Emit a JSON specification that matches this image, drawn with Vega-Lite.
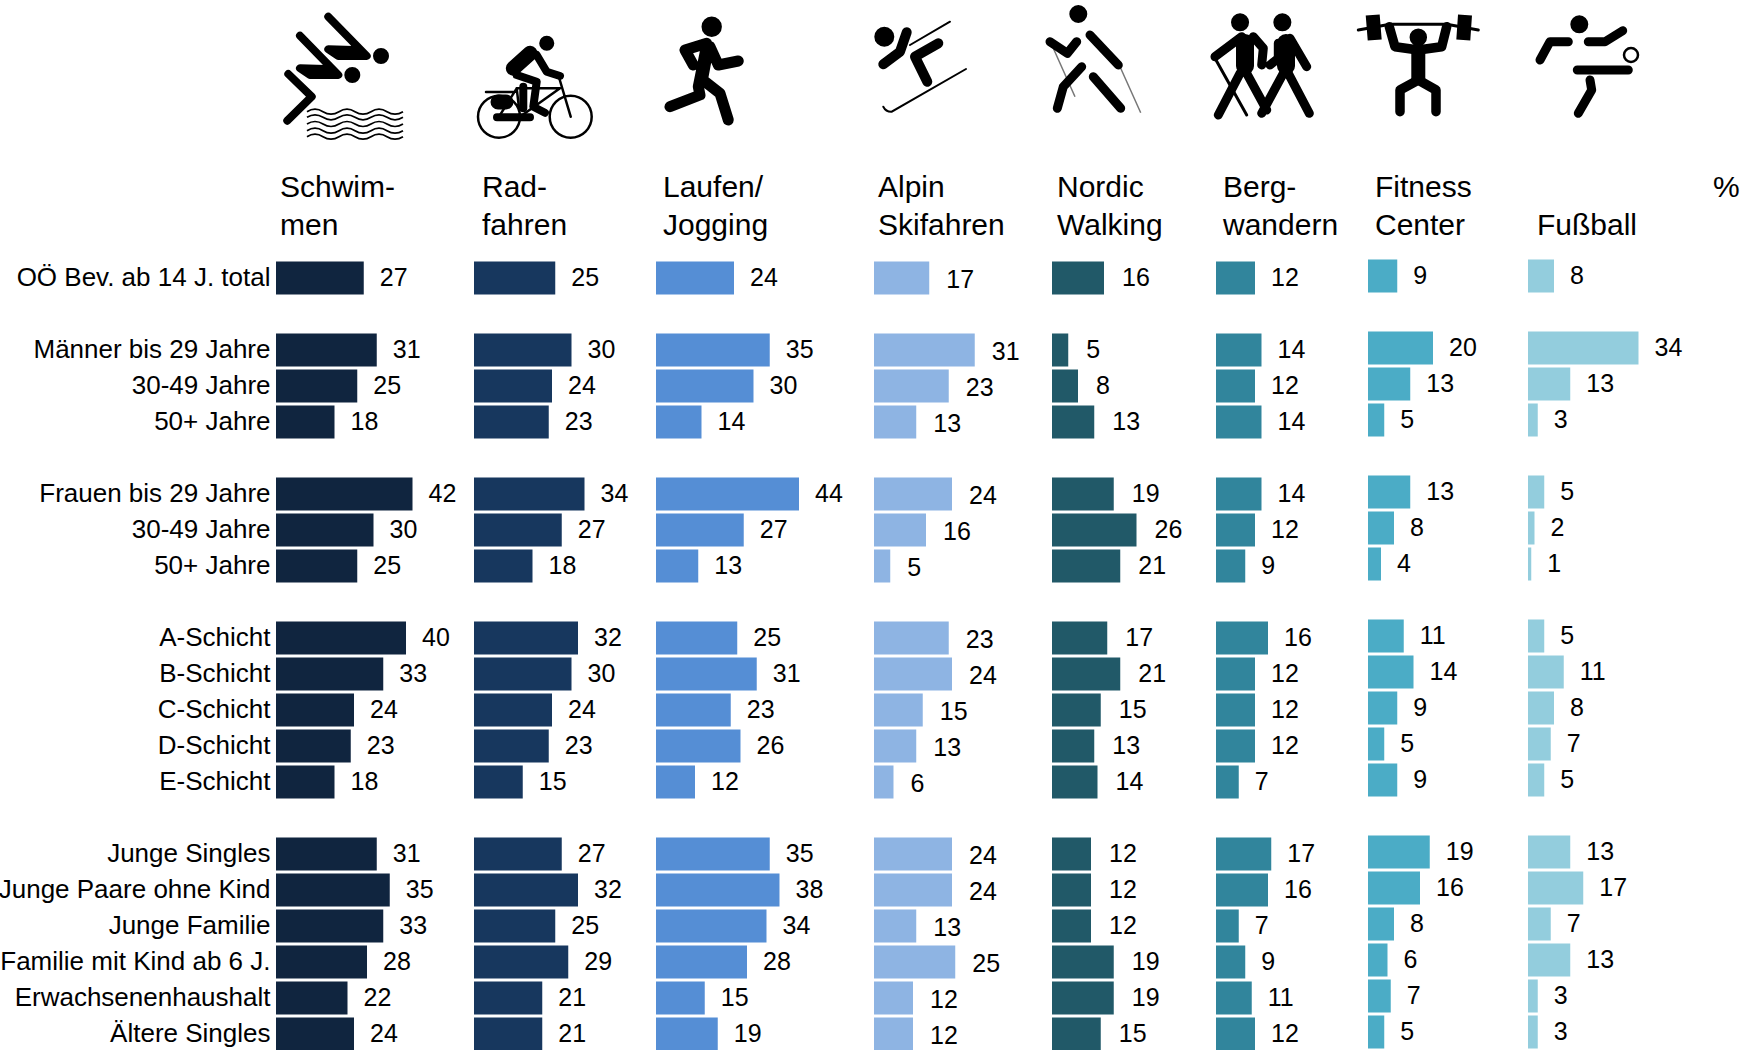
{
"$schema":"https://vega.github.io/schema/vega-lite/v6.json",
"padding":{"left":-2,"top":4,"right":0,"bottom":0},
"background":"white",
"bounds":"flush",
"config":{"view":{"stroke":null},"font":"Liberation Sans","concat":{"spacing":0},"text":{"font":"Liberation Sans","color":"#000000"}},
"spacing":0,
"datasets":{"bars":[
{"sport":"Schwimmen","row":"OÖ Bev. ab 14 J. total","value":27},{"sport":"Schwimmen","row":"Männer bis 29 Jahre","value":31},{"sport":"Schwimmen","row":"Männer: 30-49 Jahre","value":25},{"sport":"Schwimmen","row":"Männer: 50+ Jahre","value":18},{"sport":"Schwimmen","row":"Frauen bis 29 Jahre","value":42},{"sport":"Schwimmen","row":"Frauen: 30-49 Jahre","value":30},{"sport":"Schwimmen","row":"Frauen: 50+ Jahre","value":25},{"sport":"Schwimmen","row":"A-Schicht","value":40},{"sport":"Schwimmen","row":"B-Schicht","value":33},{"sport":"Schwimmen","row":"C-Schicht","value":24},{"sport":"Schwimmen","row":"D-Schicht","value":23},{"sport":"Schwimmen","row":"E-Schicht","value":18},{"sport":"Schwimmen","row":"Junge Singles","value":31},{"sport":"Schwimmen","row":"Junge Paare ohne Kind","value":35},{"sport":"Schwimmen","row":"Junge Familie","value":33},{"sport":"Schwimmen","row":"Familie mit Kind ab 6 J.","value":28},{"sport":"Schwimmen","row":"Erwachsenenhaushalt","value":22},{"sport":"Schwimmen","row":"Ältere Singles","value":24},
{"sport":"Radfahren","row":"OÖ Bev. ab 14 J. total","value":25},{"sport":"Radfahren","row":"Männer bis 29 Jahre","value":30},{"sport":"Radfahren","row":"Männer: 30-49 Jahre","value":24},{"sport":"Radfahren","row":"Männer: 50+ Jahre","value":23},{"sport":"Radfahren","row":"Frauen bis 29 Jahre","value":34},{"sport":"Radfahren","row":"Frauen: 30-49 Jahre","value":27},{"sport":"Radfahren","row":"Frauen: 50+ Jahre","value":18},{"sport":"Radfahren","row":"A-Schicht","value":32},{"sport":"Radfahren","row":"B-Schicht","value":30},{"sport":"Radfahren","row":"C-Schicht","value":24},{"sport":"Radfahren","row":"D-Schicht","value":23},{"sport":"Radfahren","row":"E-Schicht","value":15},{"sport":"Radfahren","row":"Junge Singles","value":27},{"sport":"Radfahren","row":"Junge Paare ohne Kind","value":32},{"sport":"Radfahren","row":"Junge Familie","value":25},{"sport":"Radfahren","row":"Familie mit Kind ab 6 J.","value":29},{"sport":"Radfahren","row":"Erwachsenenhaushalt","value":21},{"sport":"Radfahren","row":"Ältere Singles","value":21},
{"sport":"Laufen","row":"OÖ Bev. ab 14 J. total","value":24},{"sport":"Laufen","row":"Männer bis 29 Jahre","value":35},{"sport":"Laufen","row":"Männer: 30-49 Jahre","value":30},{"sport":"Laufen","row":"Männer: 50+ Jahre","value":14},{"sport":"Laufen","row":"Frauen bis 29 Jahre","value":44},{"sport":"Laufen","row":"Frauen: 30-49 Jahre","value":27},{"sport":"Laufen","row":"Frauen: 50+ Jahre","value":13},{"sport":"Laufen","row":"A-Schicht","value":25},{"sport":"Laufen","row":"B-Schicht","value":31},{"sport":"Laufen","row":"C-Schicht","value":23},{"sport":"Laufen","row":"D-Schicht","value":26},{"sport":"Laufen","row":"E-Schicht","value":12},{"sport":"Laufen","row":"Junge Singles","value":35},{"sport":"Laufen","row":"Junge Paare ohne Kind","value":38},{"sport":"Laufen","row":"Junge Familie","value":34},{"sport":"Laufen","row":"Familie mit Kind ab 6 J.","value":28},{"sport":"Laufen","row":"Erwachsenenhaushalt","value":15},{"sport":"Laufen","row":"Ältere Singles","value":19},
{"sport":"Alpin","row":"OÖ Bev. ab 14 J. total","value":17},{"sport":"Alpin","row":"Männer bis 29 Jahre","value":31},{"sport":"Alpin","row":"Männer: 30-49 Jahre","value":23},{"sport":"Alpin","row":"Männer: 50+ Jahre","value":13},{"sport":"Alpin","row":"Frauen bis 29 Jahre","value":24},{"sport":"Alpin","row":"Frauen: 30-49 Jahre","value":16},{"sport":"Alpin","row":"Frauen: 50+ Jahre","value":5},{"sport":"Alpin","row":"A-Schicht","value":23},{"sport":"Alpin","row":"B-Schicht","value":24},{"sport":"Alpin","row":"C-Schicht","value":15},{"sport":"Alpin","row":"D-Schicht","value":13},{"sport":"Alpin","row":"E-Schicht","value":6},{"sport":"Alpin","row":"Junge Singles","value":24},{"sport":"Alpin","row":"Junge Paare ohne Kind","value":24},{"sport":"Alpin","row":"Junge Familie","value":13},{"sport":"Alpin","row":"Familie mit Kind ab 6 J.","value":25},{"sport":"Alpin","row":"Erwachsenenhaushalt","value":12},{"sport":"Alpin","row":"Ältere Singles","value":12},
{"sport":"Nordic","row":"OÖ Bev. ab 14 J. total","value":16},{"sport":"Nordic","row":"Männer bis 29 Jahre","value":5},{"sport":"Nordic","row":"Männer: 30-49 Jahre","value":8},{"sport":"Nordic","row":"Männer: 50+ Jahre","value":13},{"sport":"Nordic","row":"Frauen bis 29 Jahre","value":19},{"sport":"Nordic","row":"Frauen: 30-49 Jahre","value":26},{"sport":"Nordic","row":"Frauen: 50+ Jahre","value":21},{"sport":"Nordic","row":"A-Schicht","value":17},{"sport":"Nordic","row":"B-Schicht","value":21},{"sport":"Nordic","row":"C-Schicht","value":15},{"sport":"Nordic","row":"D-Schicht","value":13},{"sport":"Nordic","row":"E-Schicht","value":14},{"sport":"Nordic","row":"Junge Singles","value":12},{"sport":"Nordic","row":"Junge Paare ohne Kind","value":12},{"sport":"Nordic","row":"Junge Familie","value":12},{"sport":"Nordic","row":"Familie mit Kind ab 6 J.","value":19},{"sport":"Nordic","row":"Erwachsenenhaushalt","value":19},{"sport":"Nordic","row":"Ältere Singles","value":15},
{"sport":"Berg","row":"OÖ Bev. ab 14 J. total","value":12},{"sport":"Berg","row":"Männer bis 29 Jahre","value":14},{"sport":"Berg","row":"Männer: 30-49 Jahre","value":12},{"sport":"Berg","row":"Männer: 50+ Jahre","value":14},{"sport":"Berg","row":"Frauen bis 29 Jahre","value":14},{"sport":"Berg","row":"Frauen: 30-49 Jahre","value":12},{"sport":"Berg","row":"Frauen: 50+ Jahre","value":9},{"sport":"Berg","row":"A-Schicht","value":16},{"sport":"Berg","row":"B-Schicht","value":12},{"sport":"Berg","row":"C-Schicht","value":12},{"sport":"Berg","row":"D-Schicht","value":12},{"sport":"Berg","row":"E-Schicht","value":7},{"sport":"Berg","row":"Junge Singles","value":17},{"sport":"Berg","row":"Junge Paare ohne Kind","value":16},{"sport":"Berg","row":"Junge Familie","value":7},{"sport":"Berg","row":"Familie mit Kind ab 6 J.","value":9},{"sport":"Berg","row":"Erwachsenenhaushalt","value":11},{"sport":"Berg","row":"Ältere Singles","value":12},
{"sport":"Fitness","row":"OÖ Bev. ab 14 J. total","value":9},{"sport":"Fitness","row":"Männer bis 29 Jahre","value":20},{"sport":"Fitness","row":"Männer: 30-49 Jahre","value":13},{"sport":"Fitness","row":"Männer: 50+ Jahre","value":5},{"sport":"Fitness","row":"Frauen bis 29 Jahre","value":13},{"sport":"Fitness","row":"Frauen: 30-49 Jahre","value":8},{"sport":"Fitness","row":"Frauen: 50+ Jahre","value":4},{"sport":"Fitness","row":"A-Schicht","value":11},{"sport":"Fitness","row":"B-Schicht","value":14},{"sport":"Fitness","row":"C-Schicht","value":9},{"sport":"Fitness","row":"D-Schicht","value":5},{"sport":"Fitness","row":"E-Schicht","value":9},{"sport":"Fitness","row":"Junge Singles","value":19},{"sport":"Fitness","row":"Junge Paare ohne Kind","value":16},{"sport":"Fitness","row":"Junge Familie","value":8},{"sport":"Fitness","row":"Familie mit Kind ab 6 J.","value":6},{"sport":"Fitness","row":"Erwachsenenhaushalt","value":7},{"sport":"Fitness","row":"Ältere Singles","value":5},
{"sport":"Fußball","row":"OÖ Bev. ab 14 J. total","value":8},{"sport":"Fußball","row":"Männer bis 29 Jahre","value":34},{"sport":"Fußball","row":"Männer: 30-49 Jahre","value":13},{"sport":"Fußball","row":"Männer: 50+ Jahre","value":3},{"sport":"Fußball","row":"Frauen bis 29 Jahre","value":5},{"sport":"Fußball","row":"Frauen: 30-49 Jahre","value":2},{"sport":"Fußball","row":"Frauen: 50+ Jahre","value":1},{"sport":"Fußball","row":"A-Schicht","value":5},{"sport":"Fußball","row":"B-Schicht","value":11},{"sport":"Fußball","row":"C-Schicht","value":8},{"sport":"Fußball","row":"D-Schicht","value":7},{"sport":"Fußball","row":"E-Schicht","value":5},{"sport":"Fußball","row":"Junge Singles","value":13},{"sport":"Fußball","row":"Junge Paare ohne Kind","value":17},{"sport":"Fußball","row":"Junge Familie","value":7},{"sport":"Fußball","row":"Familie mit Kind ab 6 J.","value":13},{"sport":"Fußball","row":"Erwachsenenhaushalt","value":3},{"sport":"Fußball","row":"Ältere Singles","value":3}
]},
"hconcat":[
{"width":198,"height":1044,
"encoding":{"y":{"field":"row","type":"nominal","sort":null,"scale":{"type":"band","domain":["_0","_i","_1","_2","_3","_h","_4","OÖ Bev. ab 14 J. total","_5","Männer bis 29 Jahre","Männer: 30-49 Jahre","Männer: 50+ Jahre","_6","Frauen bis 29 Jahre","Frauen: 30-49 Jahre","Frauen: 50+ Jahre","_7","A-Schicht","B-Schicht","C-Schicht","D-Schicht","E-Schicht","_8","Junge Singles","Junge Paare ohne Kind","Junge Familie","Familie mit Kind ab 6 J.","Erwachsenenhaushalt","Ältere Singles"],"paddingInner":0.083,"paddingOuter":0.0415},"title":null,"axis":{"domain":false,"ticks":false,"title":null,"labelFont":"Liberation Sans","labelFontSize":26,"labelColor":"#000000","labelPadding":6,"labelLimit":500,"labelExpr":"test(/^_/, datum.label) ? '' : replace(replace(datum.label,'Männer: ',''),'Frauen: ','')"}}},
"layer":[
{"data":{"name":"bars"},"transform":[{"filter":"datum.sport==='Schwimmen'"}],"layer":[
{"mark":{"type":"bar","color":"#10253F"},"encoding":{"x":{"field":"value","type":"quantitative","axis":null,"scale":{"domain":[0,60.92],"nice":false}}}},
{"mark":{"type":"text","align":"left","dx":16,"fontSize":25,"baseline":"middle"},"encoding":{"x":{"field":"value","type":"quantitative","axis":null,"scale":{"domain":[0,60.92],"nice":false}},"text":{"field":"value"}}}]},
{"data":{"values":[{"row":"_h","label":"Schwim-\nmen"}]},"mark":{"type":"text","align":"left","dx":4,"dy":-18,"fontSize":30,"lineBreak":"\n","lineHeight":38,"baseline":"middle"},"encoding":{"x":{"datum":0},"text":{"field":"label"}}},
{"data":{"values":[{"row":"_i"}]},"layer":[
{"mark":{"type":"point","opacity":1,"size":4,"stroke":"#000000","strokeWidth":8,"strokeCap":"round","strokeJoin":"round","shape":"M52.3 -45.3L90.7 -6L62.3 -6L52.3 -12.7L77.3 -12M24 -26.3L62.3 13L34 13L24 6.3L49 7M12.3 12L35.7 34.7L11.3 58.7M109 -6A4 4 0 1 0 101 -6A4 4 0 1 0 109 -6M80.3 13A4 4 0 1 0 72.3 13A4 4 0 1 0 80.3 13"},"encoding":{"x":{"datum":0}}},
{"mark":{"type":"point","opacity":1,"size":4,"stroke":"#000000","strokeWidth":1.7,"shape":"M31 49.7Q39 44.7 47 49.7T63 49.7T79 49.7T95 49.7T111 49.7T127 49.7M31 55.3Q39 50.3 47 55.3T63 55.3T79 55.3T95 55.3T111 55.3T127 55.3M31 62Q39 57 47 62T63 62T79 62T95 62T111 62T127 62M31 68.7Q39 63.7 47 68.7T63 68.7T79 68.7T95 68.7T111 68.7T127 68.7M31 74.7Q39 69.7 47 74.7T63 74.7T79 74.7T95 74.7T111 74.7T127 74.7"},"encoding":{"x":{"datum":0}}}]}
]},
{"width":182,"height":1044,
"encoding":{"y":{"field":"row","type":"nominal","sort":null,"axis":null,"scale":{"type":"band","domain":["_0","_i","_1","_2","_3","_h","_4","OÖ Bev. ab 14 J. total","_5","Männer bis 29 Jahre","Männer: 30-49 Jahre","Männer: 50+ Jahre","_6","Frauen bis 29 Jahre","Frauen: 30-49 Jahre","Frauen: 50+ Jahre","_7","A-Schicht","B-Schicht","C-Schicht","D-Schicht","E-Schicht","_8","Junge Singles","Junge Paare ohne Kind","Junge Familie","Familie mit Kind ab 6 J.","Erwachsenenhaushalt","Ältere Singles"],"paddingInner":0.083,"paddingOuter":0.0415}}},
"layer":[
{"data":{"name":"bars"},"transform":[{"filter":"datum.sport==='Radfahren'"}],"layer":[
{"mark":{"type":"bar","color":"#17375E"},"encoding":{"x":{"field":"value","type":"quantitative","axis":null,"scale":{"domain":[0,56],"nice":false}}}},
{"mark":{"type":"text","align":"left","dx":16,"fontSize":25,"baseline":"middle"},"encoding":{"x":{"field":"value","type":"quantitative","axis":null,"scale":{"domain":[0,56],"nice":false}},"text":{"field":"value"}}}]},
{"data":{"values":[{"row":"_h","label":"Rad-\nfahren"}]},"mark":{"type":"text","align":"left","dx":8,"dy":-18,"fontSize":30,"lineBreak":"\n","lineHeight":38,"baseline":"middle"},"encoding":{"x":{"datum":0},"text":{"field":"label"}}},
{"data":{"values":[{"row":"_i"}]},"layer":[
{"mark":{"type":"point","opacity":1,"size":4,"stroke":"#000000","strokeWidth":2.5,"strokeCap":"round","strokeJoin":"round","shape":"M46 54.7A21 21 0 1 0 4 54.7A21 21 0 1 0 46 54.7M117.7 54.7A21 21 0 1 0 75.7 54.7A21 21 0 1 0 117.7 54.7M25 54.7L46 54.7L42.7 26.3L86 26.3L46 54.7M25 54.7L42.7 26.3M84.3 13L96.7 54.7M12 30L40 30"},"encoding":{"x":{"datum":0}}},
{"mark":{"type":"point","opacity":1,"size":4,"stroke":"#000000","strokeWidth":8,"strokeCap":"round","strokeJoin":"round","shape":"M62.7 -7L72.7 9.7L86 14M42.7 13L62.7 19.7L59.3 44.7L71 50.7M49.3 24.7L49.3 46.3M23 55.3L56 55.3"},"encoding":{"x":{"datum":0}}},
{"mark":{"type":"point","opacity":1,"size":4,"stroke":"#000000","strokeWidth":15,"strokeCap":"round","strokeJoin":"round","shape":"M56 -8.7L39.3 6.3M24 40L32 40M72.7 -18.7L72.8 -18.7"},"encoding":{"x":{"datum":0}}}]}
]},
{"width":218,"height":1044,
"encoding":{"y":{"field":"row","type":"nominal","sort":null,"axis":null,"scale":{"type":"band","domain":["_0","_i","_1","_2","_3","_h","_4","OÖ Bev. ab 14 J. total","_5","Männer bis 29 Jahre","Männer: 30-49 Jahre","Männer: 50+ Jahre","_6","Frauen bis 29 Jahre","Frauen: 30-49 Jahre","Frauen: 50+ Jahre","_7","A-Schicht","B-Schicht","C-Schicht","D-Schicht","E-Schicht","_8","Junge Singles","Junge Paare ohne Kind","Junge Familie","Familie mit Kind ab 6 J.","Erwachsenenhaushalt","Ältere Singles"],"paddingInner":0.083,"paddingOuter":0.0415}}},
"layer":[
{"data":{"name":"bars"},"transform":[{"filter":"datum.sport==='Laufen'"}],"layer":[
{"mark":{"type":"bar","color":"#558ED5"},"encoding":{"x":{"field":"value","type":"quantitative","axis":null,"scale":{"domain":[0,67.08],"nice":false}}}},
{"mark":{"type":"text","align":"left","dx":16,"fontSize":25,"baseline":"middle"},"encoding":{"x":{"field":"value","type":"quantitative","axis":null,"scale":{"domain":[0,67.08],"nice":false}},"text":{"field":"value"}}}]},
{"data":{"values":[{"row":"_h","label":"Laufen/\nJogging"}]},"mark":{"type":"text","align":"left","dx":7,"dy":-18,"fontSize":30,"lineBreak":"\n","lineHeight":38,"baseline":"middle"},"encoding":{"x":{"datum":0},"text":{"field":"label"}}},
{"data":{"values":[{"row":"_i"}]},"layer":[
{"mark":{"type":"point","opacity":1,"size":4,"stroke":"#000000","strokeWidth":11,"strokeCap":"round","strokeJoin":"round","shape":"M50.7 -18.7L29 -12L37.3 3M54 -15.3L62.3 3L82.3 -1M50.7 -17L42.3 24.7L44 33L14 44.7M52 -12L46 20M49 19.7L64 31.3L72.3 58M60.4 -35.3A4.7 4.7 0 1 0 51 -35.3A4.7 4.7 0 1 0 60.4 -35.3"},"encoding":{"x":{"datum":0}}}]}
]},
{"width":178,"height":1044,
"encoding":{"y":{"field":"row","type":"nominal","sort":null,"axis":null,"scale":{"type":"band","domain":["_0","_i","_1","_2","_3","_h","_4","OÖ Bev. ab 14 J. total","_5","Männer bis 29 Jahre","Männer: 30-49 Jahre","Männer: 50+ Jahre","_6","Frauen bis 29 Jahre","Frauen: 30-49 Jahre","Frauen: 50+ Jahre","_7","A-Schicht","B-Schicht","C-Schicht","D-Schicht","E-Schicht","_8","Junge Singles","Junge Paare ohne Kind","Junge Familie","Familie mit Kind ab 6 J.","Erwachsenenhaushalt","Ältere Singles"],"paddingInner":0.083,"paddingOuter":0.0415}}},
"layer":[
{"data":{"name":"bars"},"transform":[{"filter":"datum.sport==='Alpin'"}],"layer":[
{"mark":{"type":"bar","color":"#8EB4E3"},"encoding":{"x":{"field":"value","type":"quantitative","axis":null,"scale":{"domain":[0,54.77],"nice":false}}}},
{"mark":{"type":"text","align":"left","dx":17,"dy":2,"fontSize":25,"baseline":"middle"},"encoding":{"x":{"field":"value","type":"quantitative","axis":null,"scale":{"domain":[0,54.77],"nice":false}},"text":{"field":"value"}}}]},
{"data":{"values":[{"row":"_h","label":"Alpin\nSkifahren"}]},"mark":{"type":"text","align":"left","dx":4,"dy":-18,"fontSize":30,"lineBreak":"\n","lineHeight":38,"baseline":"middle"},"encoding":{"x":{"datum":0},"text":{"field":"label"}}},
{"data":{"values":[{"row":"_i"}]},"layer":[
{"mark":{"type":"point","opacity":1,"size":4,"stroke":"#000000","strokeWidth":2,"strokeCap":"round","shape":"M36 -17L76 -40.3M9.3 44.7Q12 50 17.7 49.7L92 7"},"encoding":{"x":{"datum":0}}},
{"mark":{"type":"point","opacity":1,"size":4,"stroke":"#000000","strokeWidth":10,"strokeCap":"round","strokeJoin":"round","shape":"M32.7 -29.7L26 -10.3L9.3 2.3M64.3 -18.7L41 -5.3L53.3 19.7M15.3 -25.3A5 5 0 1 0 5.3 -25.3A5 5 0 1 0 15.3 -25.3"},"encoding":{"x":{"datum":0}}}]}
]},
{"width":164,"height":1044,
"encoding":{"y":{"field":"row","type":"nominal","sort":null,"axis":null,"scale":{"type":"band","domain":["_0","_i","_1","_2","_3","_h","_4","OÖ Bev. ab 14 J. total","_5","Männer bis 29 Jahre","Männer: 30-49 Jahre","Männer: 50+ Jahre","_6","Frauen bis 29 Jahre","Frauen: 30-49 Jahre","Frauen: 50+ Jahre","_7","A-Schicht","B-Schicht","C-Schicht","D-Schicht","E-Schicht","_8","Junge Singles","Junge Paare ohne Kind","Junge Familie","Familie mit Kind ab 6 J.","Erwachsenenhaushalt","Ältere Singles"],"paddingInner":0.083,"paddingOuter":0.0415}}},
"layer":[
{"data":{"name":"bars"},"transform":[{"filter":"datum.sport==='Nordic'"}],"layer":[
{"mark":{"type":"bar","color":"#215968"},"encoding":{"x":{"field":"value","type":"quantitative","axis":null,"scale":{"domain":[0,50.46],"nice":false}}}},
{"mark":{"type":"text","align":"left","dx":18,"fontSize":25,"baseline":"middle"},"encoding":{"x":{"field":"value","type":"quantitative","axis":null,"scale":{"domain":[0,50.46],"nice":false}},"text":{"field":"value"}}}]},
{"data":{"values":[{"row":"_h","label":"Nordic\nWalking"}]},"mark":{"type":"text","align":"left","dx":5,"dy":-18,"fontSize":30,"lineBreak":"\n","lineHeight":38,"baseline":"middle"},"encoding":{"x":{"datum":0},"text":{"field":"label"}}},
{"data":{"values":[{"row":"_i"}]},"layer":[
{"mark":{"type":"point","opacity":1,"size":4,"stroke":"#777777","strokeWidth":1.5,"strokeJoin":"round","shape":"M1.3 -13.7L23 34.7M68.7 6.3L88.7 50.7"},"encoding":{"x":{"datum":0}}},
{"mark":{"type":"point","opacity":1,"size":4,"stroke":"#000000","strokeWidth":9,"strokeCap":"round","strokeJoin":"round","shape":"M-2 -20.3L15.3 -8.7L24.7 -20.3M38 -27L66.3 3M29.7 4.7L11.3 24.7L5.3 46.3M41.3 14.7L68.7 46.3M30.8 -48A4.5 4.5 0 1 0 21.8 -48A4.5 4.5 0 1 0 30.8 -48"},"encoding":{"x":{"datum":0}}}]}
]},
{"width":152,"height":1044,
"encoding":{"y":{"field":"row","type":"nominal","sort":null,"axis":null,"scale":{"type":"band","domain":["_0","_i","_1","_2","_3","_h","_4","OÖ Bev. ab 14 J. total","_5","Männer bis 29 Jahre","Männer: 30-49 Jahre","Männer: 50+ Jahre","_6","Frauen bis 29 Jahre","Frauen: 30-49 Jahre","Frauen: 50+ Jahre","_7","A-Schicht","B-Schicht","C-Schicht","D-Schicht","E-Schicht","_8","Junge Singles","Junge Paare ohne Kind","Junge Familie","Familie mit Kind ab 6 J.","Erwachsenenhaushalt","Ältere Singles"],"paddingInner":0.083,"paddingOuter":0.0415}}},
"layer":[
{"data":{"name":"bars"},"transform":[{"filter":"datum.sport==='Berg'"}],"layer":[
{"mark":{"type":"bar","color":"#31859C"},"encoding":{"x":{"field":"value","type":"quantitative","axis":null,"scale":{"domain":[0,46.77],"nice":false}}}},
{"mark":{"type":"text","align":"left","dx":16,"fontSize":25,"baseline":"middle"},"encoding":{"x":{"field":"value","type":"quantitative","axis":null,"scale":{"domain":[0,46.77],"nice":false}},"text":{"field":"value"}}}]},
{"data":{"values":[{"row":"_h","label":"Berg-\nwandern"}]},"mark":{"type":"text","align":"left","dx":7,"dy":-18,"fontSize":30,"lineBreak":"\n","lineHeight":38,"baseline":"middle"},"encoding":{"x":{"datum":0},"text":{"field":"label"}}},
{"data":{"values":[{"row":"_i"}]},"layer":[
{"mark":{"type":"point","opacity":1,"size":4,"stroke":"#000000","strokeWidth":3,"strokeCap":"round","strokeJoin":"round","shape":"M-1 -3.7L30.7 53"},"encoding":{"x":{"datum":0}}},
{"mark":{"type":"point","opacity":1,"size":4,"stroke":"#000000","strokeWidth":9,"strokeCap":"round","strokeJoin":"round","shape":"M25.7 -25.3L-1 -5.3M37.3 -25.3L47.3 -13.7L45.7 3M24 11.3L2.3 53M30.7 11.3L50.7 48M74 -23.7L90.7 4.7M62.3 -18.7L62.3 -3.7L54 3M67.3 11.3L45.7 51.3M72.3 11.3L93.3 51.3"},"encoding":{"x":{"datum":0}}},
{"mark":{"type":"point","opacity":1,"size":4,"stroke":"#000000","strokeWidth":18,"strokeCap":"round","strokeJoin":"round","shape":"M24 -39.7L24.1 -39.7M66.3 -39.7L66.4 -39.7M29 -19L29 4M70 -19L70 4"},"encoding":{"x":{"datum":0}}}]}
]},
{"width":160,"height":1044,
"encoding":{"y":{"field":"row","type":"nominal","sort":null,"axis":null,"scale":{"type":"band","range":[-2,1042],"domain":["_0","_i","_1","_2","_3","_h","_4","OÖ Bev. ab 14 J. total","_5","Männer bis 29 Jahre","Männer: 30-49 Jahre","Männer: 50+ Jahre","_6","Frauen bis 29 Jahre","Frauen: 30-49 Jahre","Frauen: 50+ Jahre","_7","A-Schicht","B-Schicht","C-Schicht","D-Schicht","E-Schicht","_8","Junge Singles","Junge Paare ohne Kind","Junge Familie","Familie mit Kind ab 6 J.","Erwachsenenhaushalt","Ältere Singles"],"paddingInner":0.083,"paddingOuter":0.0415}}},
"layer":[
{"data":{"name":"bars"},"transform":[{"filter":"datum.sport==='Fitness'"}],"layer":[
{"mark":{"type":"bar","color":"#4BACC6"},"encoding":{"x":{"field":"value","type":"quantitative","axis":null,"scale":{"domain":[0,49.23],"nice":false}}}},
{"mark":{"type":"text","align":"left","dx":16,"fontSize":25,"baseline":"middle"},"encoding":{"x":{"field":"value","type":"quantitative","axis":null,"scale":{"domain":[0,49.23],"nice":false}},"text":{"field":"value"}}}]},
{"data":{"values":[{"row":"_h","label":"Fitness\nCenter"}]},"mark":{"type":"text","align":"left","dx":7,"dy":-16,"fontSize":30,"lineBreak":"\n","lineHeight":38,"baseline":"middle"},"encoding":{"x":{"datum":0},"text":{"field":"label"}}},
{"data":{"values":[{"row":"_i"}]},"layer":[
{"mark":{"type":"point","opacity":1,"size":4,"stroke":"#000000","strokeWidth":3,"strokeCap":"round","strokeJoin":"round","shape":"M-9.7 -30L22 -35.7L78.7 -35.7L110.3 -30"},"encoding":{"x":{"datum":0}}},
{"mark":{"type":"point","opacity":1,"size":4,"stroke":"#000000","strokeWidth":9.5,"strokeCap":"round","strokeJoin":"round","shape":"M21.3 -33.3L27 -13.3L50.3 -10L73.7 -13.3L78.7 -33.3M50.3 20L32 30L32 51.7M50.3 20L68 30L68 51.7M54.3 -22.7A4 4 0 1 0 46.3 -22.7A4 4 0 1 0 54.3 -22.7"},"encoding":{"x":{"datum":0}}},
{"mark":{"type":"point","opacity":1,"size":4,"stroke":"#000000","strokeWidth":14,"strokeCap":"butt","strokeJoin":"round","shape":"M4.7 -45L6.7 -20M97 -45L95.3 -20M50.3 -10L50.3 22"},"encoding":{"x":{"datum":0}}}]}
]},
{"width":225,"height":1044,
"encoding":{"y":{"field":"row","type":"nominal","sort":null,"axis":null,"scale":{"type":"band","range":[-2,1042],"domain":["_0","_i","_1","_2","_3","_h","_4","OÖ Bev. ab 14 J. total","_5","Männer bis 29 Jahre","Männer: 30-49 Jahre","Männer: 50+ Jahre","_6","Frauen bis 29 Jahre","Frauen: 30-49 Jahre","Frauen: 50+ Jahre","_7","A-Schicht","B-Schicht","C-Schicht","D-Schicht","E-Schicht","_8","Junge Singles","Junge Paare ohne Kind","Junge Familie","Familie mit Kind ab 6 J.","Erwachsenenhaushalt","Ältere Singles"],"paddingInner":0.083,"paddingOuter":0.0415}}},
"layer":[
{"data":{"name":"bars"},"transform":[{"filter":"datum.sport==='Fußball'"}],"layer":[
{"mark":{"type":"bar","color":"#93CDDD"},"encoding":{"x":{"field":"value","type":"quantitative","axis":null,"scale":{"domain":[0,69.23],"nice":false}}}},
{"mark":{"type":"text","align":"left","dx":16,"fontSize":25,"baseline":"middle"},"encoding":{"x":{"field":"value","type":"quantitative","axis":null,"scale":{"domain":[0,69.23],"nice":false}},"text":{"field":"value"}}}]},
{"data":{"values":[{"row":"_h","label":"\nFußball"}]},"mark":{"type":"text","align":"left","dx":9,"dy":-16,"fontSize":30,"lineBreak":"\n","lineHeight":38,"baseline":"middle"},"encoding":{"x":{"datum":0},"text":{"field":"label"}}},
{"data":{"values":[{"row":"_h","label":"%"}]},"mark":{"type":"text","align":"center","dy":-16,"fontSize":30,"baseline":"middle"},"encoding":{"x":{"datum":61},"text":{"field":"label"}}},
{"data":{"values":[{"row":"_i"}]},"layer":[
{"mark":{"type":"point","opacity":1,"size":4,"stroke":"#000000","strokeWidth":2.5,"strokeJoin":"round","shape":"M110 -5A7 7 0 1 0 96 -5A7 7 0 1 0 110 -5"},"encoding":{"x":{"datum":0}}},
{"mark":{"type":"point","opacity":1,"size":4,"stroke":"#000000","strokeWidth":9,"strokeCap":"round","strokeJoin":"round","shape":"M40.3 -18.3L22 -18.3L12 0M60.3 -18.3L77 -18.3L94.7 -29.3M49.3 10L100.3 10M62 20L63.7 30L50.3 53.3M55.8 -35.7A4.5 4.5 0 1 0 46.8 -35.7A4.5 4.5 0 1 0 55.8 -35.7"},"encoding":{"x":{"datum":0}}}]}
]}
]
}
